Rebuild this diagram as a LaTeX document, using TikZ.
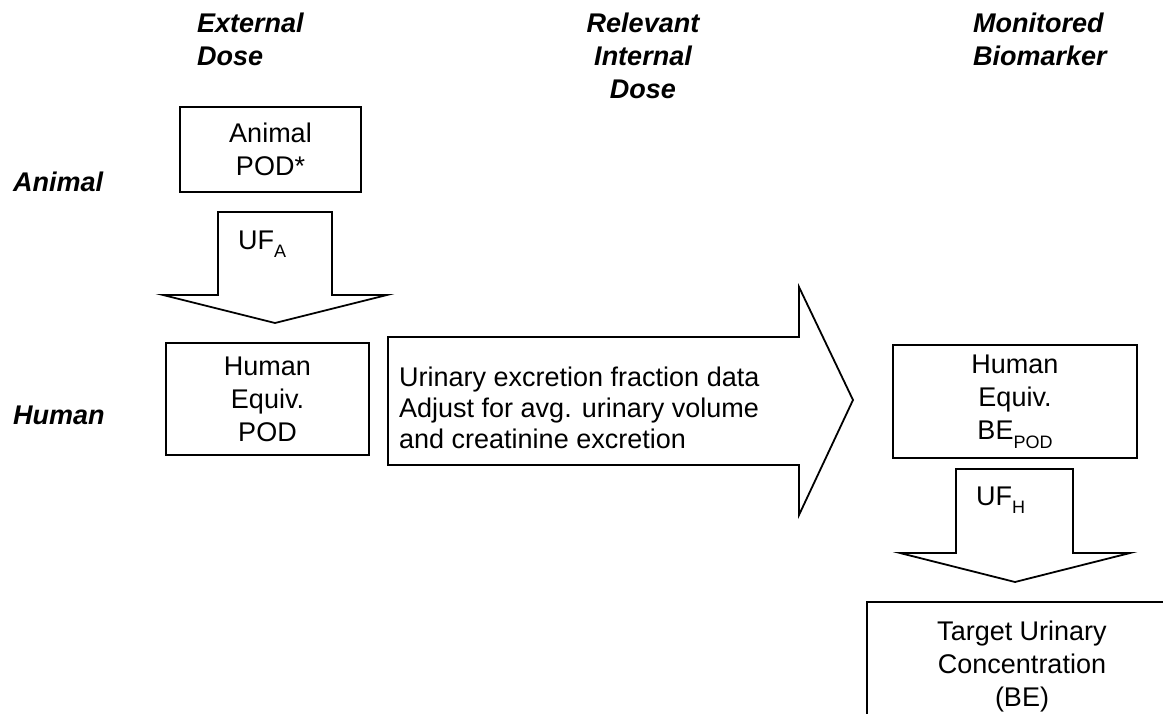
\documentclass[tikz,border=0pt]{standalone}
\usepackage{fontspec}
\setmainfont{Liberation Sans}
\usetikzlibrary{positioning}

\newcommand{\lowsub}[1]{\raisebox{-0.32em}{\fontsize{18}{18}\selectfont #1}}

\begin{document}
\begin{tikzpicture}[x=1pt, y=-1pt,
  every node/.style={font=\fontsize{27}{33}\selectfont, inner sep=0pt},
  box/.style={rectangle, draw=black, line width=1.8pt, align=center,
              text centered},
  head/.style={font=\fontsize{27}{33}\selectfont\bfseries\itshape},
  blk/.style={draw=black, line width=1.8pt, fill=white}]
  \useasboundingbox (0,0) rectangle (1163,713);
  \clip (0,0) rectangle (1163,713);
  % column and row headings
  \node[head, anchor=north west, align=left] (EXT) at (197,13) {External\\Dose};
  \node[head, anchor=north, align=center] (REL) at (643,13) {Relevant\\Internal\\Dose};
  \node[head, anchor=north west, align=left] (MON) at (973,13) {Monitored\\Biomarker};
  \node[head, anchor=west] (ANI) at (13,182) {Animal};
  \node[head, anchor=west] (HUM) at (13,415) {Human};
  % boxes
  \node[box, minimum width=181, minimum height=85] (AP) at (270.5,149.5) {Animal\\POD*};
  \node[box, minimum width=203, minimum height=112] (HP) at (267.5,399) {Human\\Equiv.\\POD};
  \node[box, minimum width=244, minimum height=113] (HB) at (1015,401.5) {Human\\Equiv.\\BE\lowsub{POD}};
  \node[box, minimum width=310, minimum height=130] (TU) at (1022,667) {Target Urinary\\Concentration\\(BE)};
  % block arrows
  \draw[blk] (218,212) -- (332,212) -- (332,295) -- (387,295) -- (275,323)
             -- (163,295) -- (218,295) -- cycle;
  \node[anchor=base west] (UFA) at (238,249) {UF\lowsub{A}};
  \draw[blk] (388,337) -- (799,337) -- (799,287) -- (853,400) -- (799,515)
             -- (799,465) -- (388,465) -- cycle;
  \node[anchor=west, align=left, font=\fontsize{27}{31}\selectfont] (UEX) at (399,408)
    {Urinary excretion fraction data\\Adjust for avg. urinary volume\\and creatinine excretion};
  \draw[blk] (956,469) -- (1073,469) -- (1073,553) -- (1130,553) -- (1015,582)
             -- (900,553) -- (956,553) -- cycle;
  \node[anchor=base west] (UFH) at (976,505) {UF\lowsub{H}};
\end{tikzpicture}
\end{document}
